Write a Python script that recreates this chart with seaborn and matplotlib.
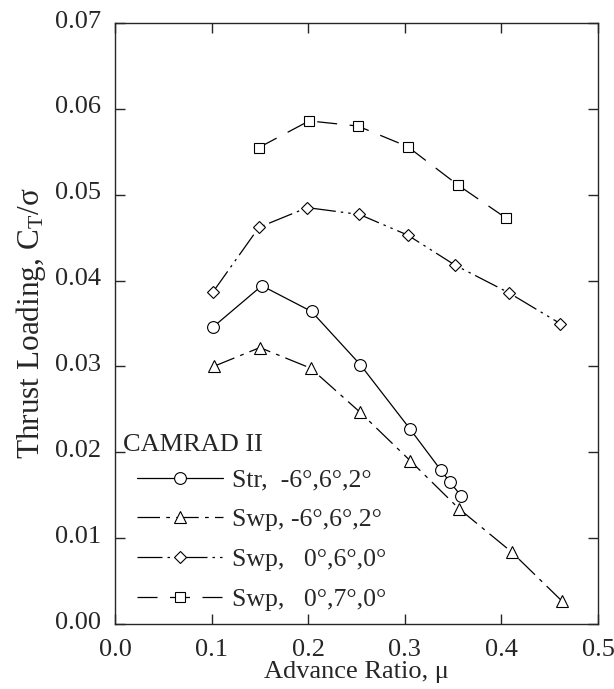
import numpy as np
import pandas as pd
import matplotlib
matplotlib.use('Agg')
import matplotlib.pyplot as plt
import matplotlib.transforms as mtrans
import seaborn as sns

# ============================================================================
# DATA
# ============================================================================

mu_str = [0.1016, 0.152, 0.2035, 0.254, 0.3055, 0.3375, 0.347, 0.3585]
ct_str = [0.0346, 0.0394, 0.0364, 0.0302, 0.0227, 0.0179, 0.0165, 0.0149]

mu_swp62 = [0.102, 0.150, 0.2025, 0.2534, 0.3058, 0.3564, 0.4105, 0.4625]
ct_swp62 = [0.0300, 0.0322, 0.0298, 0.0247, 0.0190, 0.0134, 0.0084, 0.0027]

mu_swp60 = [0.1016, 0.149, 0.199, 0.2531, 0.303, 0.352, 0.4074, 0.4608]
ct_swp60 = [0.0387, 0.0462, 0.0485, 0.0477, 0.0453, 0.0418, 0.0386, 0.0350]

mu_swp70 = [0.149, 0.201, 0.2514, 0.303, 0.3554, 0.4046]
ct_swp70 = [0.0555, 0.0586, 0.0580, 0.0556, 0.0511, 0.0473]

labels = ['Str,  -6\u00b0,6\u00b0,2\u00b0',
          'Swp, -6\u00b0,6\u00b0,2\u00b0',
          'Swp,   0\u00b0,6\u00b0,0\u00b0',
          'Swp,   0\u00b0,7\u00b0,0\u00b0']
legend_title = 'CAMRAD II'

x_ticks = [0.0, 0.1, 0.2, 0.3, 0.4, 0.5]
y_ticks = [0.00, 0.01, 0.02, 0.03, 0.04, 0.05, 0.06, 0.07]

# ============================================================================
# STYLE
# ============================================================================

sns.set_style('ticks')
plt.rcParams['font.family'] = ['Liberation Serif', 'DejaVu Serif']
plt.rcParams['mathtext.fontset'] = 'custom'
plt.rcParams['mathtext.rm'] = 'Liberation Serif'
plt.rcParams['mathtext.it'] = 'Liberation Serif'

fig = plt.figure(figsize=(6.14, 6.89), dpi=100)
ax = fig.add_axes([0.1873, 0.0943, 0.7866, 0.8723])

series = [
    (mu_str, ct_str, 'o', 8.5, '-'),
    (mu_swp62, ct_swp62, '^', 8.5, (0, (18, 5, 3, 5))),
    (mu_swp60, ct_swp60, 'D', 6.0, (0, (20, 4, 2, 4, 2, 4))),
    (mu_swp70, ct_swp70, 's', 7.5, (0, (16, 10))),
]

for (mx, my, mk, ms, ls), lab in zip(series, labels):
    df = pd.DataFrame({'mu': mx, 'ct': my})
    sns.lineplot(data=df, x='mu', y='ct', ax=ax, color='black', lw=0.9,
                 linestyle=ls, marker=mk, markersize=ms,
                 markerfacecolor='white', markeredgecolor='black',
                 markeredgewidth=0.8, label=lab, sort=False)

ax.set_xlim(0.0, 0.5)
ax.set_ylim(0.0, 0.07)
ax.set_xticks(x_ticks)
ax.set_yticks(y_ticks)
ax.set_xticklabels([f'{v:.1f}' for v in x_ticks])
ax.set_yticklabels([f'{v:.2f}' for v in y_ticks])
ax.tick_params(direction='in', top=True, right=True, length=7, width=1,
               labelsize=19)
ax.tick_params(axis='x', pad=11)
ax.tick_params(axis='y', pad=10)
for s in ax.spines.values():
    s.set_visible(True)
    s.set_linewidth(1.0)

# y tick labels sit slightly above their ticks in the reference
shift = mtrans.ScaledTranslation(0, 4 / 100, fig.dpi_scale_trans)
for t in ax.get_yticklabels():
    t.set_transform(t.get_transform() + shift)

ax.set_xlabel('Advance Ratio, \u03bc', fontsize=19, labelpad=0)
ax.set_ylabel('Thrust Loading, C$_\\mathrm{T}$/\u03c3', fontsize=22.5, labelpad=5)

leg = ax.legend(loc='lower left', frameon=False, fontsize=18.5,
                handlelength=3.35, handletextpad=0.35, labelspacing=0.65,
                borderaxespad=0, borderpad=0, bbox_to_anchor=(0.0455, 0.022))
ax.text(0.0166, 0.298, legend_title, transform=ax.transAxes,
        fontsize=19, ha='left', va='center')

plt.savefig('out.png', dpi=100)
